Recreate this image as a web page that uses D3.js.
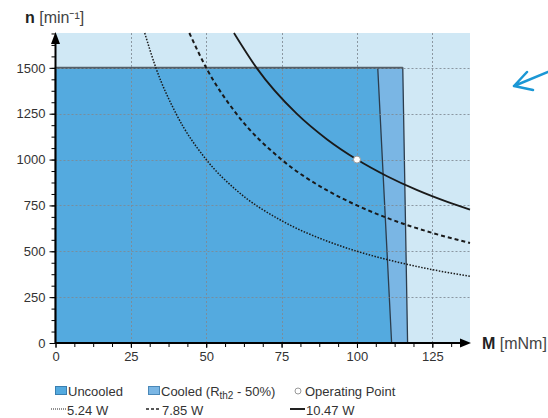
<!DOCTYPE html>
<html>
<head>
<meta charset="utf-8">
<script src="https://cdn.jsdelivr.net/npm/d3@7"></script>
<style>
  body { margin: 0; background: #fff; }
  svg { display: block; font-family: "Liberation Sans", Arial, sans-serif; }
</style>
</head>
<body>
<div id="chart"></div>
<script>
// operating limits, [M (mNm), n (1/min)]
var uncooled = [[0, 0], [0, 1500], [106.9, 1500], [111.5, 0]];
var cooled = [[0, 0], [0, 1500], [115.2, 1500], [116.8, 0]];

// constant power curves, [M, n]
var curve524 = [[29.6, 1690], [33.3, 1500], [40, 1250], [50, 1000], [60, 833], [75, 667],
                [90, 556], [100, 500], [110, 455], [125, 400], [137.5, 364]];
var curve785 = [[44.4, 1690], [50, 1500], [60, 1250], [75, 1000], [90, 833], [100, 750],
                [110, 682], [125, 600], [137.5, 545]];
var curve1047 = [[59.2, 1690], [66.7, 1500], [80, 1250], [90, 1111], [100, 1000],
                 [110, 909], [120, 833], [130, 769], [137.5, 727]];

var operatingPoint = [100, 1000];

var xTicks = [0, 25, 50, 75, 100, 125];
var yTicks = [0, 250, 500, 750, 1000, 1250, 1500];

var width = 548, height = 418;
var font = "Liberation Sans, Arial, sans-serif";

var svg = d3.select("#chart").append("svg")
    .attr("width", width)
    .attr("height", height);

var x = d3.scaleLinear().domain([0, 137.5]).range([55.5, 470]);
var y = d3.scaleLinear().domain([0, 1690]).range([343, 33]);

// plot background
svg.append("rect")
    .attr("x", x(0)).attr("y", y(1690))
    .attr("width", x(137.5) - x(0)).attr("height", y(0) - y(1690))
    .attr("fill", "#d0e8f5");

var area = d3.line().x(function(d) { return x(d[0]); }).y(function(d) { return y(d[1]); });

svg.append("path")
    .attr("d", area(cooled) + "Z")
    .attr("fill", "#7ab6e4")
    .attr("stroke", "#2c3c4c")
    .attr("stroke-width", 1.3);

svg.append("path")
    .attr("d", area(uncooled) + "Z")
    .attr("fill", "#54aadf")
    .attr("stroke", "#2c3c4c")
    .attr("stroke-width", 1.3);

// top edge at 1500 looks heavier
svg.append("line")
    .attr("x1", x(0)).attr("x2", x(115.2))
    .attr("y1", y(1500)).attr("y2", y(1500))
    .attr("stroke", "#555f68").attr("stroke-width", 2);

// grid
var grid = svg.append("g")
    .attr("stroke", "#7f8a93")
    .attr("stroke-width", 1)
    .attr("stroke-dasharray", "2,2")
    .attr("opacity", 0.85);

grid.selectAll(".gx").data(xTicks.slice(1)).enter().append("line")
    .attr("x1", function(d) { return Math.round(x(d)) + 0.5; })
    .attr("x2", function(d) { return Math.round(x(d)) + 0.5; })
    .attr("y1", y(0)).attr("y2", y(1690));

grid.selectAll(".gy").data(yTicks.slice(1)).enter().append("line")
    .attr("y1", function(d) { return Math.round(y(d)) + 0.5; })
    .attr("y2", function(d) { return Math.round(y(d)) + 0.5; })
    .attr("x1", x(0)).attr("x2", x(137.5));

// power curves
var curveLine = d3.line()
    .x(function(d) { return x(d[0]); })
    .y(function(d) { return y(d[1]); })
    .curve(d3.curveMonotoneX);

var curves = [
    { data: curve524, dash: "1.5,1.5", w: 1.5 },
    { data: curve785, dash: "4,3", w: 2 },
    { data: curve1047, dash: null, w: 1.8 }
];

curves.forEach(function(c) {
    svg.append("path")
        .attr("d", curveLine(c.data))
        .attr("fill", "none")
        .attr("stroke", "#1a1a1a")
        .attr("stroke-width", c.w)
        .attr("stroke-dasharray", c.dash);
});

svg.append("circle")
    .attr("cx", x(operatingPoint[0])).attr("cy", y(operatingPoint[1]))
    .attr("r", 3.5)
    .attr("fill", "#fff")
    .attr("stroke", "#999")
    .attr("stroke-width", 1);

// axes
var xAxis = d3.axisBottom(x).tickValues(d3.range(0, 137.5, 6.25))
    .tickSize(4).tickFormat("");
var yAxis = d3.axisLeft(y).tickValues(d3.range(0, 1690, 62.5))
    .tickSize(4).tickFormat("");

svg.append("g").attr("transform", "translate(0," + y(0) + ")").call(xAxis)
    .call(function(g) { g.select(".domain").remove(); });
svg.append("g").attr("transform", "translate(" + x(0) + ",0)").call(yAxis)
    .call(function(g) { g.select(".domain").remove(); });

svg.append("g").attr("transform", "translate(0," + y(0) + ")")
    .call(d3.axisBottom(x).tickValues(xTicks).tickSize(5).tickPadding(4).tickFormat(d3.format("d")))
    .call(function(g) {
        g.select(".domain").remove();
        g.selectAll("text").attr("font-size", 13).attr("fill", "#333")
            .attr("font-family", font);
    });

svg.append("g").attr("transform", "translate(" + x(0) + ",0)")
    .call(d3.axisLeft(y).tickValues(yTicks).tickSize(6).tickPadding(4).tickFormat(d3.format("d")))
    .call(function(g) {
        g.select(".domain").remove();
        g.selectAll("text").attr("font-size", 13).attr("fill", "#333")
            .attr("font-family", font);
    });

svg.append("line")
    .attr("x1", x(0)).attr("x2", 462)
    .attr("y1", y(0)).attr("y2", y(0))
    .attr("stroke", "#000").attr("stroke-width", 2);
svg.append("line")
    .attr("x1", x(0)).attr("x2", x(0))
    .attr("y1", y(0)).attr("y2", 42)
    .attr("stroke", "#000").attr("stroke-width", 2);

svg.append("path")
    .attr("d", "M" + 471 + "," + y(0) + " L460," + (y(0) - 4.5) + " L460," + (y(0) + 4.5) + "Z")
    .attr("fill", "#000");
svg.append("path")
    .attr("d", "M" + x(0) + ",32 L" + (x(0) - 4.5) + ",44 L" + (x(0) + 4.5) + ",44Z")
    .attr("fill", "#000");

// axis titles
var nTitle = svg.append("text").attr("x", 25).attr("y", 23)
    .attr("font-size", 16).attr("fill", "#222");
nTitle.append("tspan").attr("font-weight", "bold").text("n");
nTitle.append("tspan").attr("fill", "#444").text(" [min\u207B\u00B9]");

var mTitle = svg.append("text").attr("x", 482).attr("y", 349)
    .attr("font-size", 16).attr("fill", "#222");
mTitle.append("tspan").attr("font-weight", "bold").text("M");
mTitle.append("tspan").attr("fill", "#444").text(" [mNm]");

// legend
var lg = svg.append("g").attr("font-size", 13).attr("fill", "#333");

lg.append("rect").attr("x", 55.5).attr("y", 386.5).attr("width", 11).attr("height", 8)
    .attr("fill", "#54aadf").attr("stroke", "#3a7fb0");
lg.append("text").attr("x", 68).attr("y", 396).text("Uncooled");

lg.append("rect").attr("x", 148.5).attr("y", 386.5).attr("width", 11).attr("height", 8)
    .attr("fill", "#7ab6e4").attr("stroke", "#4a88b8");
var ct = lg.append("text").attr("x", 161).attr("y", 396);
ct.append("tspan").text("Cooled (R");
ct.append("tspan").attr("font-size", 10).attr("dy", 3).text("th2");
ct.append("tspan").attr("dy", -3).text(" - 50%)");

lg.append("circle").attr("cx", 298).attr("cy", 391).attr("r", 3)
    .attr("fill", "#fff").attr("stroke", "#999");
lg.append("text").attr("x", 305).attr("y", 396).text("Operating Point");

var legendLines = [
    { x: 51, label: "5.24 W", dash: "1,1", w: 1 },
    { x: 146, label: "7.85 W", dash: "3,2", w: 1.5 },
    { x: 290, label: "10.47 W", dash: null, w: 2 }
];
legendLines.forEach(function(l) {
    lg.append("line").attr("x1", l.x).attr("x2", l.x + 15)
        .attr("y1", 409).attr("y2", 409)
        .attr("stroke", "#222").attr("stroke-width", l.w)
        .attr("stroke-dasharray", l.dash);
    lg.append("text").attr("x", l.x + 16).attr("y", 415).text(l.label);
});

// blue pointer arrow on the right
svg.append("path")
    .attr("d", "M548,72 L514,86 M527,72 L514,86 L533,90")
    .attr("fill", "none")
    .attr("stroke", "#1b97d5")
    .attr("stroke-width", 2.5)
    .attr("stroke-linecap", "round")
    .attr("stroke-linejoin", "round");
</script>
</body>
</html>
